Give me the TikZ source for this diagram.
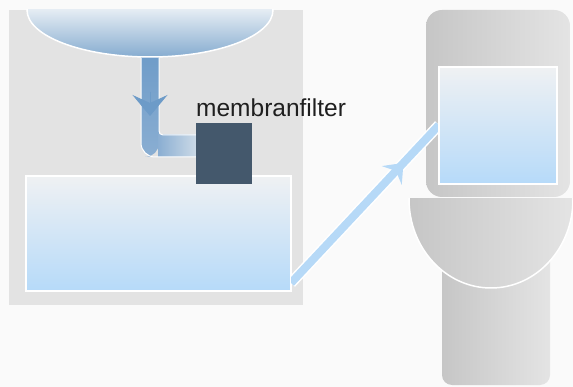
\documentclass[tikz,border=0pt]{standalone}
\usepackage{fontspec}
\setmainfont{Liberation Sans}
\usepackage{xcolor}
\usepackage{tikz}
\usetikzlibrary{arrows.meta,decorations.markings}
\definecolor{bg}{HTML}{FAFAFA}
\definecolor{panel-grey}{HTML}{E3E3E3}
\definecolor{basin-top}{HTML}{E4ECF3}
\definecolor{basin-bot}{HTML}{86ACD0}
\definecolor{pipe-dark}{HTML}{6D9BC8}
\definecolor{pipe-mid}{HTML}{8AAED2}
\definecolor{pipe-pale}{HTML}{D2DEE9}
\definecolor{pipe-light}{HTML}{B6D9F7}
\definecolor{water-top}{HTML}{EFF1F3}
\definecolor{water-bot}{HTML}{B6DAF9}
\definecolor{filter-blue}{HTML}{44586C}
\definecolor{porcelain-l}{HTML}{C6C6C6}
\definecolor{porcelain-r}{HTML}{E4E4E4}
\tikzstyle{water} = [rectangle, draw=white, line width=1.5pt, top color=water-top, bottom color=water-bot, inner sep=0pt]
\tikzstyle{porcelain} = [rectangle, left color=porcelain-l, right color=porcelain-r, inner sep=0pt]
\tikzstyle{filterbox} = [rectangle, fill=filter-blue, minimum width=56pt, minimum height=61pt, inner sep=0pt]
\tikzstyle{filtertext} = [anchor=base west, inner sep=0pt, text=black!88, font=\fontsize{24.5}{28}\selectfont]

\begin{document}
\begin{tikzpicture}[x=1pt,y=-1pt]
\useasboundingbox (0,0) rectangle (573,387);
\fill[bg] (0,0) rectangle (573,387);
\fill[panel-grey] (9,10) rectangle (303,305);
\path[top color=pipe-dark, bottom color=pipe-mid] (159,50) -- (141,50) [rounded corners=14pt] -- (141,157) -- (159,157) [sharp corners] -- cycle;
\path[left color=pipe-mid, right color=pipe-pale] (158,135) rectangle (200,157);
\draw[white, line width=1pt] (141,58) [rounded corners=14pt] -- (141,157) -- (197,157);
\draw[white, line width=1pt] (159,58) [rounded corners=4pt] -- (159,135) -- (197,135);
\draw[pipe-dark, line width=1pt, -{Stealth[length=21pt, width=35pt, inset=8pt]}] (150,92) -- (150,116);
\begin{scope}
\clip (9,10) rectangle (303,305);
\shade[draw=white, line width=1.5pt, top color=white, bottom color=basin-bot, middle color=basin-top] (150,10) ellipse (123 and 47);
\end{scope}
\node[water, minimum width=265pt, minimum height=115pt] (grey-tank) at (158.5,233.5) {};
\node[filterbox] (filter) at (224,153.5) {};
\node[filtertext] (filter-label) at (196,117) {membranfilter};
\node[porcelain, rounded corners=10pt, minimum width=108pt, minimum height=140pt] (pedestal) at (496,315) {};
\begin{scope}
\clip (400,199) rectangle (580,300);
\shade[left color=porcelain-l, right color=porcelain-r, draw=white, line width=1.5pt] (491,199) ellipse (82 and 89);
\end{scope}
\node[porcelain, rounded corners=16pt, minimum width=144pt, minimum height=187pt] (cistern) at (498,103.5) {};
\coordinate (pipe-in) at (291,283);
\coordinate (pipe-out) at (439,125);
\begin{scope}
\clip (291,0) rectangle (439,387);
\draw[white, line width=11pt] (pipe-in) -- (pipe-out);
\draw[pipe-light, line width=8pt, postaction={decorate}, decoration={markings, mark=at position 0.76 with {\arrow{Stealth[length=17pt, width=27pt, inset=6pt]}}}] (pipe-in) -- (pipe-out);
\end{scope}
\node[water, minimum width=118pt, minimum height=117pt] (cistern-water) at (498,125.5) {};
\end{tikzpicture}
\end{document}
